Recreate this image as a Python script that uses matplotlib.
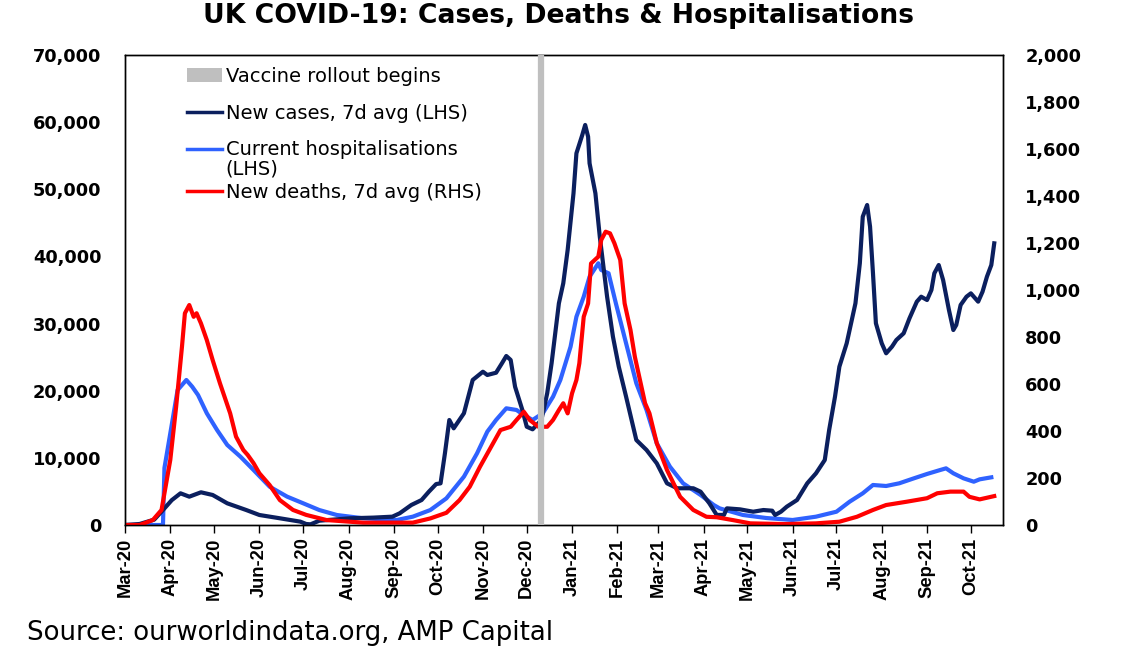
import matplotlib
matplotlib.use("Agg")
import matplotlib.pyplot as plt
import matplotlib.dates as mdates
from matplotlib.ticker import FuncFormatter, MultipleLocator
from matplotlib.patches import Patch
from matplotlib.lines import Line2D
from matplotlib.font_manager import FontProperties
import pandas as pd

# ---------------- data (days since 1 Mar 2020) ----------------
start_date = "2020-03-01"
vaccine_date = "2020-12-11"

cases_day = [0, 10, 20, 26, 32, 38, 44, 52, 60, 70,
             83, 92, 106, 120, 124, 127, 133, 154, 170, 183,
             188, 196, 203, 208, 213, 216, 219, 222, 225, 232,
             238, 245, 248, 254, 258, 261, 264, 267, 272, 275,
             279, 285, 289, 292, 297, 300, 303, 307, 309, 313,
             315, 317, 318, 322, 325, 330, 334, 338, 343, 350,
             357, 364, 371, 378, 389, 394, 400, 403, 405, 410,
             412, 421, 430, 437, 443, 445, 449, 453, 460, 467,
             473, 479, 482, 486, 489, 494, 500, 503, 505, 508,
             510, 512, 514, 518, 521, 525, 528, 533, 537, 542,
             545, 549, 552, 554, 557, 560, 564, 567, 569, 572,
             576, 579, 584, 587, 590, 593, 595]
cases_val = [0, 150, 800, 2230, 3700, 4720, 4220, 4870, 4470, 3230,
             2230, 1490, 1000, 500, 150, 100, 640, 1000, 1100, 1240,
             1740, 2980, 3720, 4960, 6100, 6200, 10680, 15640, 14400, 16640,
             21600, 22830, 22340, 22680, 24080, 25170, 24580, 20600, 17130, 14640,
             14250, 15640, 19610, 24080, 33020, 36000, 40960, 49400, 55360, 58080,
             59580, 57830, 53870, 49400, 42940, 34000, 28050, 23580, 19110, 12660,
             11170, 9190, 6210, 5470, 5470, 4960, 3230, 2200, 1500, 1500,
             2480, 2330, 1980, 2230, 2130, 1490, 1980, 2730, 3720, 6210,
             7700, 9680, 14150, 19110, 23580, 27060, 33020, 38980, 45920, 47660,
             44430, 37490, 30040, 27060, 25570, 26560, 27550, 28550, 30790, 33260,
             34000, 33510, 35000, 37490, 38720, 36490, 32020, 29040, 29790, 32770,
             34000, 34500, 33260, 34750, 36980, 38720, 41950]

hosp_day = [0, 26, 27, 31, 36, 42, 46, 50, 56, 63,
            70, 79, 88, 99, 111, 122, 133, 145, 163, 186,
            197, 209, 220, 232, 241, 248, 254, 261, 268, 273,
            279, 286, 293, 298, 305, 309, 314, 318, 324, 326,
            331, 336, 343, 350, 357, 364, 373, 382, 394, 403,
            407, 423, 439, 457, 473, 487, 496, 505, 512, 521,
            530, 540, 549, 558, 562, 567, 574, 581, 585, 593]
hosp_val = [0, 0, 8500, 13650, 20100, 21600, 20600, 19360, 16640, 14150,
            11920, 10180, 8190, 5710, 4220, 3230, 2230, 1490, 1000, 745,
            1240, 2230, 3970, 7200, 10680, 13900, 15640, 17380, 17130, 16380,
            15640, 16640, 19110, 21600, 26560, 31020, 34000, 36980, 38980, 37980,
            37490, 33020, 27060, 21110, 17130, 12170, 8690, 6210, 4470, 2980,
            2480, 1490, 1040, 745, 1240, 1980, 3470, 4720, 5960, 5810,
            6210, 6950, 7600, 8190, 8440, 7700, 6950, 6450, 6800, 7100]

deaths_day = [0, 10, 19, 25, 31, 35, 39, 41, 44, 47,
              49, 52, 56, 60, 65, 72, 76, 81, 84, 88,
              92, 99, 106, 115, 124, 138, 163, 197, 209, 220,
              229, 236, 243, 250, 257, 264, 268, 273, 277, 283,
              289, 293, 297, 300, 303, 306, 309, 311, 314, 317,
              319, 324, 326, 329, 332, 335, 339, 342, 346, 349,
              352, 356, 359, 364, 371, 380, 389, 398, 405, 416,
              428, 451, 473, 489, 501, 512, 521, 535, 549, 556,
              565, 574, 578, 585, 595]
deaths_val = [0, 0, 21, 64, 277, 503, 759, 901, 936, 886,
              901, 858, 787, 702, 603, 475, 376, 319, 298, 263,
              220, 170, 106, 64, 43, 21, 10, 10, 28, 52,
              106, 163, 248, 326, 404, 418, 447, 482, 447, 418,
              418, 447, 489, 518, 475, 560, 617, 688, 886, 943,
              1113, 1142, 1213, 1248, 1241, 1199, 1128, 943, 830, 716,
              631, 518, 475, 348, 234, 120, 64, 35, 33, 21,
              7, 4, 7, 14, 35, 64, 85, 99, 114, 135,
              142, 142, 120, 109, 123]

title = "UK COVID-19: Cases, Deaths & Hospitalisations"
source = "Source: ourworldindata.org, AMP Capital"
labels = ["Vaccine rollout begins", "New cases, 7d avg (LHS)",
          "Current hospitalisations", "New deaths, 7d avg (RHS)"]
label_cont = "(LHS)"

# ---------------- styling ----------------
C_CASES = "#0B1F5E"
C_HOSP = "#2F62FF"
C_DEATH = "#FF0000"
C_VAX = "#BFBFBF"

base = pd.Timestamp(start_date)
to_dates = lambda d: base + pd.to_timedelta(d, unit="D")

W, H = 1123, 661
fig = plt.figure(figsize=(W / 100, H / 100), dpi=100)
ax = fig.add_axes([125 / W, 1 - 525 / H, 878 / W, 470 / H])
ax2 = ax.twinx()

ax.plot(to_dates(cases_day), cases_val, color=C_CASES, lw=3.0, zorder=3)
ax.plot(to_dates(hosp_day), hosp_val, color=C_HOSP, lw=3.0, zorder=2)
ax2.plot(to_dates(deaths_day), deaths_val, color=C_DEATH, lw=3.0, zorder=2)
ax2.axvline(pd.Timestamp(vaccine_date), color=C_VAX, lw=4.5, zorder=3)

ax.set_ylim(0, 70000)
ax2.set_ylim(0, 2000)
ax.set_xlim(base, base + pd.Timedelta(days=601))

ax.yaxis.set_major_locator(MultipleLocator(10000))
ax2.yaxis.set_major_locator(MultipleLocator(200))
fmt = FuncFormatter(lambda v, p: f"{int(v):,}")
ax.yaxis.set_major_formatter(fmt)
ax2.yaxis.set_major_formatter(fmt)

ax.xaxis.set_major_locator(mdates.MonthLocator())
ax.xaxis.set_major_formatter(mdates.DateFormatter("%b-%y"))

ax.tick_params(axis="y", length=0, pad=17)
ax2.tick_params(axis="y", length=0, pad=16)
ax.tick_params(axis="x", length=6, width=1, direction="out", pad=3)
ytick_fp = FontProperties(family="DejaVu Sans", weight="bold", size=12.8)
for lab in ax.get_yticklabels() + ax2.get_yticklabels():
    lab.set_fontproperties(ytick_fp)
xtick_fp = FontProperties(family="Liberation Sans", weight="bold", size=13.2)
for lab in ax.get_xticklabels():
    lab.set_fontproperties(xtick_fp)
    lab.set_rotation(90)

for a in (ax, ax2):
    for s in a.spines.values():
        s.set_color("black")
        s.set_linewidth(1.0)

handles = [Patch(facecolor=C_VAX, edgecolor="none"),
           Line2D([], [], color=C_CASES, lw=2.5),
           Line2D([], [], color=C_HOSP, lw=2.5),
           Line2D([], [], color=C_DEATH, lw=2.5)]
leg_fp = FontProperties(family="DejaVu Sans", size=14)
leg_kw = dict(loc="upper left", frameon=False, prop=leg_fp,
              handlelength=1.8, handletextpad=0.2, borderaxespad=0.2)
leg1 = ax2.legend(handles[:3], labels[:3], bbox_to_anchor=(0.0573, 1.0),
                  labelspacing=0.92, **leg_kw)
ax2.add_artist(leg1)
leg2 = ax2.legend(handles[3:], labels[3:], bbox_to_anchor=(0.0573, 0.752),
                  **leg_kw)

fig.text(0.497, 1 - 16 / H, title, ha="center", va="center",
         family="DejaVu Sans", weight="bold", size=19.2)
fig.text(27 / W, 1 - 633 / H, source, ha="left", va="center",
         family="DejaVu Sans", size=18.7)

# continuation line of the wrapped hospitalisation label
fig.canvas.draw()
bb = leg1.get_texts()[2].get_window_extent()
yc = (bb.y0 + bb.y1) / 2 - 19.5
fig.text(bb.x0 / W, yc / H, label_cont, ha="left", va="center",
         fontproperties=leg_fp)

fig.savefig("out.png", dpi=100)
